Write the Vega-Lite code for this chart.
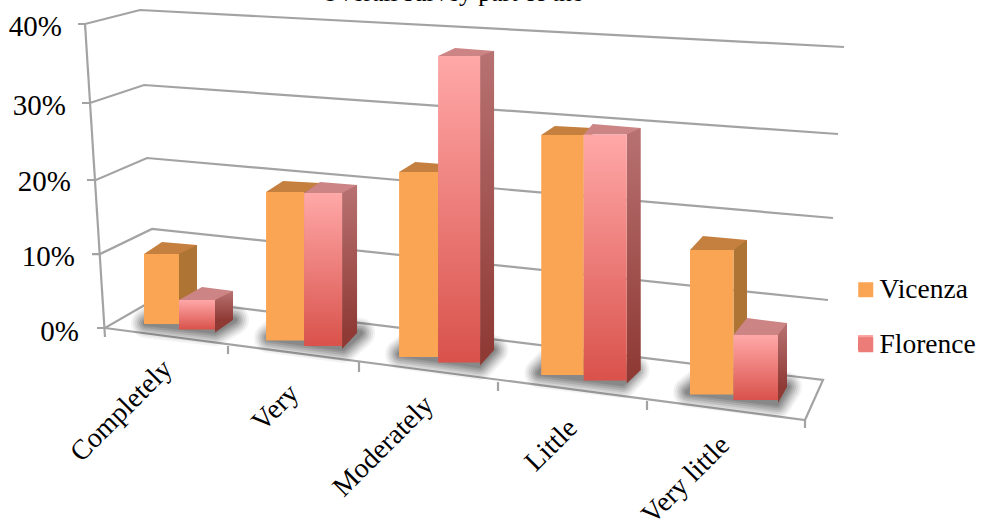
{
  "$schema": "https://vega.github.io/schema/vega-lite/v6.json",
  "width": 984,
  "height": 521,
  "padding": 0,
  "autosize": {"type": "none"},
  "background": "white",
  "config": {"view": {"stroke": null}},
  "params": [
    {"name": "drop", "value": [0, 16.5, 33, 51, 70.5]},
    {"name": "vLeft", "value": [-35, -36.5, -39.2, -41.3, -43.5]},
    {"name": "vRight", "value": [0, 1.5, -0.2, 1.2, 0]},
    {"name": "fRight", "value": [36, 39.5, 41.8, 44.2, 44.5]},
    {"name": "vDepth", "value": [18, 16, 17.2, 8.8, 13.5]},
    {"name": "vRise", "value": [-9, -9, -7, -7, -10]},
    {"name": "fDepth", "value": [18, 15, 14, 14, 9]},
    {"name": "fRise", "value": [-9, -8, -5, -6.5, -12]},
    {"name": "fFloor", "value": [-9.5, -13, -12.5, -10.5, -13]},
    {"name": "vCap", "value": [
      "M-35,0L0,0L18,-9L-17,-12Z",
      "M-36.5,0L1.5,0L17.5,-9L-19.5,-11Z",
      "M-39.2,0L-0.2,0L17,-7L-23,-10Z",
      "M-41.3,0L1.2,0L10,-7L-27.8,-9Z",
      "M-43.5,0L0,0L13.5,-10L-30.5,-14Z"
    ]},
    {"name": "fCap", "value": [
      "M0,0L36,0L54,-9L23,-13Z",
      "M1.5,0L39.5,0L54.5,-8L17.5,-11Z",
      "M-0.2,0L41.8,0L55.8,-5L16.8,-8Z",
      "M1.2,0L44.2,0L58.2,-6.5L10.2,-10.5Z",
      "M0,0L44.5,0L53.5,-12L13.5,-17Z"
    ]},
    {"name": "fFoot", "value": [
      "M36,-9.5L54,-9.5L36,3Z",
      "M39.5,-13L54.5,-13L39.5,3Z",
      "M41.8,-12.5L55.8,-12.5L41.8,3Z",
      "M44.2,-10.5L58.2,-10.5L44.2,3Z",
      "M44.5,-13L53.5,-13L44.5,3Z"
    ]},
    {"name": "footprint", "value": [
      "M-33,-1L36,7L55,-4L-17,-12Z",
      "M-33.5,-2.5L40.5,7.5L57.5,-7.5L-17.5,-15.5Z",
      "M-38,-3L41,8L55,-7L-20,-18Z",
      "M-43,-2L40,8L52,-5L-31,-14Z",
      "M-45.5,-2.5L43.5,8.5L53.5,-7.5L-30.5,-14.5Z"
    ]},
    {"name": "labelX", "value": [-11, -8, -9, -9.5, -8]},
    {"name": "labelY", "value": [41, 49, 44, 49, 46.5]}
  ],
  "datasets": {
    "survey": [
      {"category": "Completely", "order": 1, "city": "Vicenza", "share": 9.09},
      {"category": "Completely", "order": 1, "city": "Florence", "share": 3.83},
      {"category": "Very", "order": 2, "city": "Vicenza", "share": 19.29},
      {"category": "Very", "order": 2, "city": "Florence", "share": 19.87},
      {"category": "Moderately", "order": 3, "city": "Vicenza", "share": 24.03},
      {"category": "Moderately", "order": 3, "city": "Florence", "share": 39.81},
      {"category": "Little", "order": 4, "city": "Vicenza", "share": 31.17},
      {"category": "Little", "order": 4, "city": "Florence", "share": 31.95},
      {"category": "Very little", "order": 5, "city": "Vicenza", "share": 18.77},
      {"category": "Very little", "order": 5, "city": "Florence", "share": 8.44}
    ],
    "frame": [
      {"edge": "wall40", "step": 1, "along": 78, "level": 40.4},
      {"edge": "wall40", "step": 2, "along": 85, "level": 40.4},
      {"edge": "wall40", "step": 3, "along": 140, "level": 42.26},
      {"edge": "wall40", "step": 4, "along": 844, "level": 37.34},
      {"edge": "wall30", "step": 1, "along": 82, "level": 29.9},
      {"edge": "wall30", "step": 2, "along": 90, "level": 29.9},
      {"edge": "wall30", "step": 3, "along": 144, "level": 32.29},
      {"edge": "wall30", "step": 4, "along": 838, "level": 25.78},
      {"edge": "wall20", "step": 1, "along": 87, "level": 19.67},
      {"edge": "wall20", "step": 2, "along": 96, "level": 19.67},
      {"edge": "wall20", "step": 3, "along": 147, "level": 22.59},
      {"edge": "wall20", "step": 4, "along": 833, "level": 14.62},
      {"edge": "wall10", "step": 1, "along": 92, "level": 9.83},
      {"edge": "wall10", "step": 2, "along": 100, "level": 9.83},
      {"edge": "wall10", "step": 3, "along": 152, "level": 13.16},
      {"edge": "wall10", "step": 4, "along": 828, "level": 3.72},
      {"edge": "floor", "step": 1, "along": 97, "level": 0},
      {"edge": "floor", "step": 2, "along": 105, "level": 0},
      {"edge": "floor", "step": 3, "along": 157, "level": 3.99},
      {"edge": "floor", "step": 4, "along": 823, "level": -6.91},
      {"edge": "floor", "step": 5, "along": 805, "level": -12.23},
      {"edge": "floor", "step": 6, "along": 105, "level": 0},
      {"edge": "axis", "step": 1, "along": 85, "level": 40.4},
      {"edge": "axis", "step": 2, "along": 105, "level": -1.2},
      {"edge": "tick2", "step": 1, "along": 228, "level": -2.39},
      {"edge": "tick2", "step": 2, "along": 228, "level": -3.46},
      {"edge": "tick3", "step": 1, "along": 359, "level": -4.52},
      {"edge": "tick3", "step": 2, "along": 359, "level": -5.85},
      {"edge": "tick4", "step": 1, "along": 498, "level": -7.18},
      {"edge": "tick4", "step": 2, "along": 498, "level": -8.37},
      {"edge": "tick5", "step": 1, "along": 647, "level": -9.7},
      {"edge": "tick5", "step": 2, "along": 647, "level": -10.9},
      {"edge": "tick6", "step": 1, "along": 805, "level": -12.23},
      {"edge": "tick6", "step": 2, "along": 805, "level": -13.29}
    ],
    "scaleLabels": [
      {"label": "40%", "level": 40, "along": 62},
      {"label": "30%", "level": 30, "along": 66},
      {"label": "20%", "level": 20, "along": 71},
      {"label": "10%", "level": 10, "along": 75},
      {"label": "0%", "level": 0, "along": 79}
    ],
    "heading": [
      {"label": "Overall survey part of the", "level": 43.5, "along": 452}
    ],
    "florenceKey": [
      {"city": "Florence", "along": 858, "alongEnd": 873, "level": -0.93, "levelEnd": -2.92}
    ]
  },
  "layer": [
    {
      "encoding": {
        "x": {"field": "along", "type": "quantitative", "axis": null, "scale": {"domain": [0, 984], "range": [0, 984], "padding": 0, "nice": false, "zero": false}},
        "y": {"field": "level", "type": "quantitative", "axis": null, "scale": {"domain": [0, 40], "range": [328, 27], "nice": false, "zero": false}}
      },
      "layer": [
        {
          "data": {"name": "frame"},
          "mark": {"type": "line", "color": "#a3a3a3", "strokeWidth": 2.2, "strokeJoin": "miter"},
          "encoding": {
            "detail": {"field": "edge"},
            "order": {"field": "step", "type": "quantitative"}
          }
        },
        {
          "data": {"name": "scaleLabels"},
          "mark": {"type": "text", "align": "right", "baseline": "middle", "font": "Liberation Serif", "fontSize": 29, "color": "#000000", "dy": {"expr": "datum.level == 40 ? -0.5 : 4"}},
          "encoding": {"text": {"field": "label"}}
        },
        {
          "data": {"name": "heading"},
          "mark": {"type": "text", "align": "center", "baseline": "alphabetic", "font": "Liberation Serif", "fontSize": 25.5, "color": "#000000"},
          "encoding": {"text": {"field": "label"}}
        },
        {
          "data": {"name": "florenceKey"},
          "mark": {"type": "rect", "color": {"gradient": "linear", "x1": 0, "y1": 0, "x2": 0, "y2": 1, "stops": [{"offset": 0, "color": "#ffa8a8"}, {"offset": 1, "color": "#d9524b"}]}},
          "encoding": {"x2": {"field": "alongEnd"}, "y2": {"field": "levelEnd"}}
        }
      ]
    },
    {
      "data": {"name": "survey"},
      "encoding": {
        "x": {"field": "order", "type": "quantitative", "axis": null, "scale": {"type": "pow", "exponent": 1.18, "domain": [1, 5], "range": [179, 733.5], "padding": 0, "nice": false, "zero": false}},
        "y": {"field": "share", "type": "quantitative", "stack": null, "axis": null, "scale": {"domain": [0, 40], "range": [324, 16], "nice": false, "zero": false}}
      },
      "layer": [
        {
          "transform": [{"filter": "datum.city === 'Vicenza'"}],
          "mark": {"type": "point", "filled": true, "size": 4, "opacity": 0.05, "color": "#333333", "stroke": "#333333", "strokeWidth": 30, "strokeJoin": "round", "shape": {"expr": "footprint[datum.order - 1]"}, "yOffset": {"expr": "drop[datum.order - 1]"}},
          "encoding": {"y": {"datum": 0}}
        },
        {
          "transform": [{"filter": "datum.city === 'Vicenza'"}],
          "mark": {"type": "point", "filled": true, "size": 4, "opacity": 0.07, "color": "#333333", "stroke": "#333333", "strokeWidth": 26, "strokeJoin": "round", "shape": {"expr": "footprint[datum.order - 1]"}, "yOffset": {"expr": "drop[datum.order - 1]"}},
          "encoding": {"y": {"datum": 0}}
        },
        {
          "transform": [{"filter": "datum.city === 'Vicenza'"}],
          "mark": {"type": "point", "filled": true, "size": 4, "opacity": 0.09, "color": "#333333", "stroke": "#333333", "strokeWidth": 22, "strokeJoin": "round", "shape": {"expr": "footprint[datum.order - 1]"}, "yOffset": {"expr": "drop[datum.order - 1]"}},
          "encoding": {"y": {"datum": 0}}
        },
        {
          "transform": [{"filter": "datum.city === 'Vicenza'"}],
          "mark": {"type": "point", "filled": true, "size": 4, "opacity": 0.11, "color": "#333333", "stroke": "#333333", "strokeWidth": 18, "strokeJoin": "round", "shape": {"expr": "footprint[datum.order - 1]"}, "yOffset": {"expr": "drop[datum.order - 1]"}},
          "encoding": {"y": {"datum": 0}}
        },
        {
          "transform": [{"filter": "datum.city === 'Vicenza'"}],
          "mark": {"type": "point", "filled": true, "size": 4, "opacity": 0.13, "color": "#333333", "stroke": "#333333", "strokeWidth": 14, "strokeJoin": "round", "shape": {"expr": "footprint[datum.order - 1]"}, "yOffset": {"expr": "drop[datum.order - 1]"}},
          "encoding": {"y": {"datum": 0}}
        },
        {
          "transform": [{"filter": "datum.city === 'Vicenza'"}],
          "mark": {"type": "point", "filled": true, "size": 4, "opacity": 0.15, "color": "#333333", "stroke": "#333333", "strokeWidth": 10, "strokeJoin": "round", "shape": {"expr": "footprint[datum.order - 1]"}, "yOffset": {"expr": "drop[datum.order - 1]"}},
          "encoding": {"y": {"datum": 0}}
        },
        {
          "transform": [{"filter": "datum.city === 'Vicenza'"}],
          "mark": {"type": "point", "filled": true, "size": 4, "opacity": 0.17, "color": "#333333", "stroke": "#333333", "strokeWidth": 6, "strokeJoin": "round", "shape": {"expr": "footprint[datum.order - 1]"}, "yOffset": {"expr": "drop[datum.order - 1]"}},
          "encoding": {"y": {"datum": 0}}
        },
        {
          "transform": [{"filter": "datum.city === 'Vicenza'"}],
          "mark": {"type": "bar", "orient": "vertical", "color": "#ad7434",
            "width": {"expr": "vDepth[datum.order - 1]"},
            "xOffset": {"expr": "vRight[datum.order - 1] + vDepth[datum.order - 1] / 2"},
            "yOffset": {"expr": "drop[datum.order - 1] + vRise[datum.order - 1]"},
            "y2Offset": {"expr": "drop[datum.order - 1] - 10"}},
          "encoding": {"y2": {"datum": 0}}
        },
        {
          "transform": [{"filter": "datum.city === 'Vicenza'"}],
          "mark": {"type": "point", "filled": true, "size": 4, "opacity": 1, "color": "#c5803f", "strokeWidth": 0, "shape": {"expr": "vCap[datum.order - 1]"}, "yOffset": {"expr": "drop[datum.order - 1]"}}
        },
        {
          "transform": [{"filter": "datum.city === 'Vicenza'"}],
          "mark": {"type": "bar", "orient": "vertical", "color": "#faa553",
            "width": {"expr": "vRight[datum.order - 1] - vLeft[datum.order - 1]"},
            "xOffset": {"expr": "(vRight[datum.order - 1] + vLeft[datum.order - 1]) / 2"},
            "yOffset": {"expr": "drop[datum.order - 1]"},
            "y2Offset": {"expr": "drop[datum.order - 1]"}},
          "encoding": {"y2": {"datum": 0}}
        },
        {
          "transform": [{"filter": "datum.city === 'Florence'"}],
          "mark": {"type": "bar", "orient": "vertical",
            "color": {"gradient": "linear", "x1": 0, "y1": 0, "x2": 0, "y2": 1, "stops": [{"offset": 0, "color": "#b87272"}, {"offset": 1, "color": "#8f3a35"}]},
            "width": {"expr": "fDepth[datum.order - 1]"},
            "xOffset": {"expr": "fRight[datum.order - 1] + fDepth[datum.order - 1] / 2"},
            "yOffset": {"expr": "drop[datum.order - 1] + 5.5 + fRise[datum.order - 1]"},
            "y2Offset": {"expr": "drop[datum.order - 1] + 5.5 + fFloor[datum.order - 1]"}},
          "encoding": {"y2": {"datum": 0}}
        },
        {
          "transform": [{"filter": "datum.city === 'Florence'"}],
          "mark": {"type": "point", "filled": true, "size": 4, "opacity": 1, "color": "#8f3a35", "strokeWidth": 0, "shape": {"expr": "fFoot[datum.order - 1]"}, "yOffset": {"expr": "drop[datum.order - 1] + 5.5"}},
          "encoding": {"y": {"datum": 0}}
        },
        {
          "transform": [{"filter": "datum.city === 'Florence'"}],
          "mark": {"type": "point", "filled": true, "size": 4, "opacity": 1, "color": "#cc8484", "strokeWidth": 0, "shape": {"expr": "fCap[datum.order - 1]"}, "yOffset": {"expr": "drop[datum.order - 1] + 5.5"}}
        },
        {
          "transform": [{"filter": "datum.city === 'Florence'"}],
          "mark": {"type": "bar", "orient": "vertical",
            "color": {"gradient": "linear", "x1": 0, "y1": 0, "x2": 0, "y2": 1, "stops": [{"offset": 0, "color": "#ffa8a8"}, {"offset": 1, "color": "#d9524b"}]},
            "width": {"expr": "fRight[datum.order - 1] - vRight[datum.order - 1]"},
            "xOffset": {"expr": "(fRight[datum.order - 1] + vRight[datum.order - 1]) / 2"},
            "yOffset": {"expr": "drop[datum.order - 1] + 5.5"},
            "y2Offset": {"expr": "drop[datum.order - 1] + 5.5"}},
          "encoding": {"y2": {"datum": 0}}
        },
        {
          "mark": {"type": "point", "filled": true, "size": 0, "opacity": 0},
          "encoding": {
            "color": {"field": "city", "type": "nominal", "sort": ["Vicenza", "Florence"],
              "scale": {"domain": ["Vicenza", "Florence"], "range": ["#faa553", "#ec7c78"]},
              "legend": {"title": null, "orient": "none", "legendX": 852, "legendY": 276, "symbolType": "square", "symbolSize": 225, "symbolStrokeWidth": 0, "symbolOpacity": 1, "labelFont": "Liberation Serif", "labelFontSize": 27.5, "labelColor": "#000000", "rowPadding": 26, "labelOffset": 0, "labelLimit": 200}
            }
          }
        },
        {
          "transform": [{"filter": "datum.city === 'Vicenza'"}],
          "mark": {"type": "text", "align": "right", "baseline": "middle", "angle": 315, "font": "Liberation Serif", "fontSize": 28, "color": "#000000",
            "xOffset": {"expr": "labelX[datum.order - 1]"},
            "yOffset": {"expr": "drop[datum.order - 1] + labelY[datum.order - 1]"}},
          "encoding": {"y": {"datum": 0}, "text": {"field": "category"}}
        }
      ]
    }
  ],
  "resolve": {"scale": {"x": "independent", "y": "independent"}}
}
